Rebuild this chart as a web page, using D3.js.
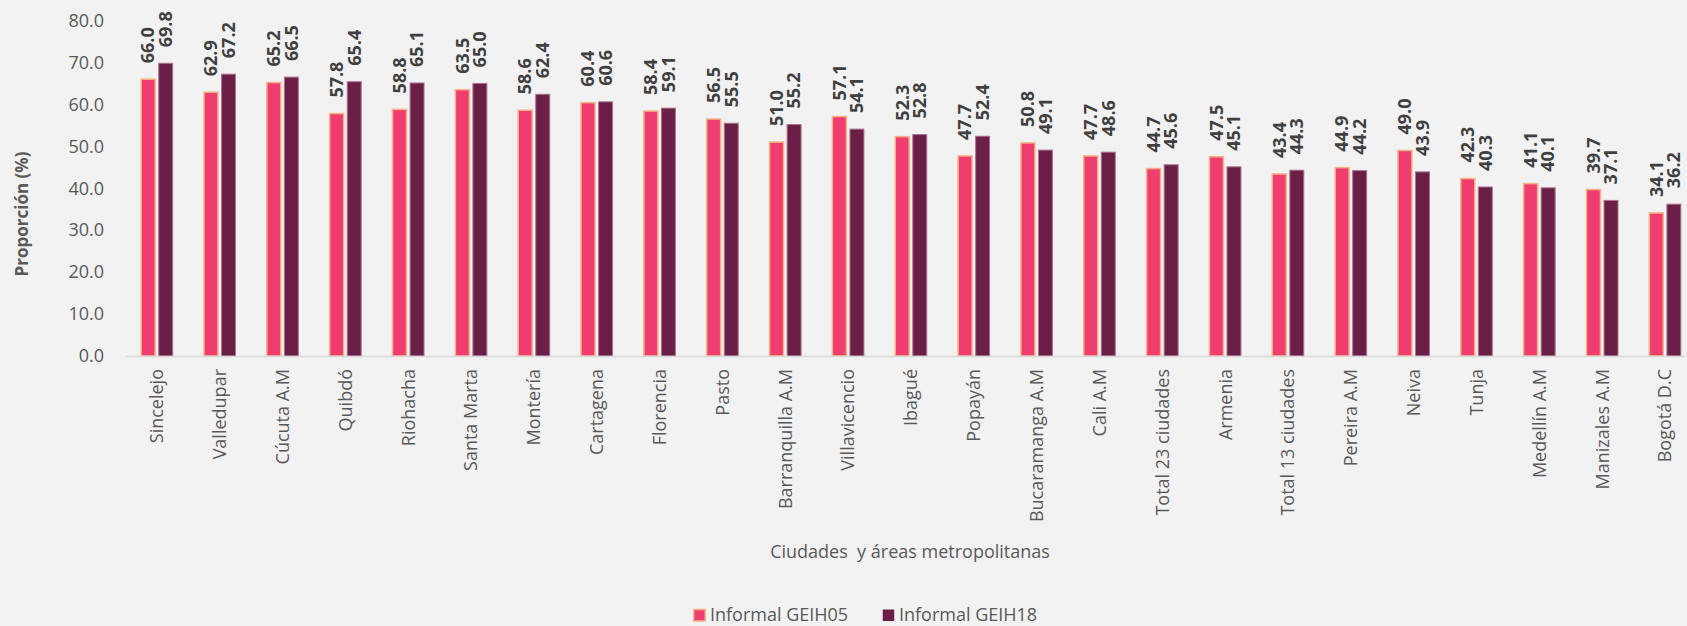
<!DOCTYPE html>
<html>
<head>
<meta charset="utf-8">
<script src="https://cdn.jsdelivr.net/npm/d3@7"></script>
<style>
  body { margin: 0; background: #F2F2F2; overflow: hidden; }
  text { font-family: "Open Sans", "Noto Sans", sans-serif; }
</style>
</head>
<body>
<div id="chart"></div>
<script>
// data
var ciudades = ["Sincelejo", "Valledupar", "Cúcuta A.M", "Quibdó", "Riohacha", "Santa Marta",
  "Montería", "Cartagena", "Florencia", "Pasto", "Barranquilla A.M", "Villavicencio", "Ibagué",
  "Popayán", "Bucaramanga A.M", "Cali A.M", "Total 23 ciudades", "Armenia", "Total 13 ciudades",
  "Pereira A.M", "Neiva", "Tunja", "Medellín A.M", "Manizales A.M", "Bogotá D.C"];
var geih05 = [66.0, 62.9, 65.2, 57.8, 58.8, 63.5, 58.6, 60.4, 58.4, 56.5, 51.0, 57.1, 52.3,
  47.7, 50.8, 47.7, 44.7, 47.5, 43.4, 44.9, 49.0, 42.3, 41.1, 39.7, 34.1];
var geih18 = [69.8, 67.2, 66.5, 65.4, 65.1, 65.0, 62.4, 60.6, 59.1, 55.5, 55.2, 54.1, 52.8,
  52.4, 49.1, 48.6, 45.6, 45.1, 44.3, 44.2, 43.9, 40.3, 40.1, 37.1, 36.2];
var series = ["Informal GEIH05", "Informal GEIH18"];
var yTicks = [0, 10, 20, 30, 40, 50, 60, 70, 80];

var W = 1687, H = 626;
var fills = ["#EE3D6E", "#6B1F47"];
var strokes = ["#F4B183", "#A8718E"];

var data = ciudades.map(function(c, i) {
  return {ciudad: c, vals: [geih05[i], geih18[i]]};
});

var svg = d3.select("#chart").append("svg")
    .attr("width", W)
    .attr("height", H)
    .style("background", "#F2F2F2");

// scales
var x0 = d3.scaleBand()
    .domain(ciudades)
    .range([125.5, 1696.5])
    .paddingInner(0.475)
    .paddingOuter(0.2375);
var x1 = d3.scaleBand()
    .domain([0, 1])
    .range([0, x0.bandwidth()])
    .paddingInner(0.12);
var y = d3.scaleLinear()
    .domain([0, 80])
    .range([356, 20.5]);

// y axis labels
svg.append("g").selectAll("text")
    .data(yTicks)
  .enter().append("text")
    .attr("x", 104)
    .attr("y", function(d) { return y(d); })
    .attr("dy", "0.35em")
    .attr("text-anchor", "end")
    .style("font-size", "18px")
    .style("fill", "#595959")
    .text(function(d) { return d.toFixed(1); });

// bars
var groups = svg.append("g").selectAll("g")
    .data(data)
  .enter().append("g")
    .attr("transform", function(d) { return "translate(" + x0(d.ciudad) + ",0)"; });

groups.selectAll("rect")
    .data(function(d) { return d.vals; })
  .enter().append("rect")
    .attr("x", function(d, i) { return x1(i) + 0.75; })
    .attr("width", x1.bandwidth() - 1.5)
    .attr("y", function(d) { return y(d); })
    .attr("height", function(d) { return y(0) - y(d); })
    .style("fill", function(d, i) { return fills[i]; })
    .style("stroke", function(d, i) { return strokes[i]; })
    .style("stroke-width", function(d, i) { return i == 0 ? 1.5 : 1; });

// value labels
groups.selectAll("text")
    .data(function(d) { return d.vals; })
  .enter().append("text")
    .attr("transform", function(d, i) {
      return "translate(" + (x1(i) + x1.bandwidth() / 2) + "," + (y(d) - 16) + ") rotate(-90)";
    })
    .attr("dy", "0.35em")
    .attr("text-anchor", "start")
    .style("font-size", "18px")
    .style("font-weight", "bold")
    .style("fill", "#404040")
    .text(function(d) { return d.toFixed(1); });

// x axis line
svg.append("line")
    .attr("x1", 125.5)
    .attr("x2", W)
    .attr("y1", 356.5)
    .attr("y2", 356.5)
    .style("stroke", "#D9D9D9")
    .style("stroke-width", 1.5);

// category labels
svg.append("g").selectAll("text")
    .data(ciudades)
  .enter().append("text")
    .attr("transform", function(d) {
      return "translate(" + (x0(d) + x0.bandwidth() / 2) + ",369) rotate(-90)";
    })
    .attr("dy", "0.35em")
    .attr("text-anchor", "end")
    .style("font-size", "18px")
    .style("fill", "#595959")
    .text(function(d) { return d; });

// axis titles
svg.append("text")
    .attr("transform", "translate(22,214) rotate(-90)")
    .attr("dy", "0.35em")
    .attr("text-anchor", "middle")
    .style("font-size", "17px")
    .style("font-weight", "bold")
    .style("fill", "#595959")
    .text("Proporción (%)");

svg.append("text")
    .attr("x", 910)
    .attr("y", 552)
    .attr("dy", "0.35em")
    .attr("text-anchor", "middle")
    .style("font-size", "18px")
    .style("fill", "#595959")
    .style("white-space", "pre")
    .text("Ciudades  y áreas metropolitanas");

// legend
var legX = [693, 882];
var legend = svg.append("g").selectAll("g")
    .data(series)
  .enter().append("g")
    .attr("transform", function(d, i) { return "translate(" + legX[i] + ",615)"; });

legend.append("rect")
    .attr("x", 0.75)
    .attr("y", -5.5)
    .attr("width", 11.5)
    .attr("height", 11.5)
    .style("fill", function(d, i) { return fills[i]; })
    .style("stroke", function(d, i) { return i == 0 ? strokes[0] : "none"; })
    .style("stroke-width", 1.5);

legend.append("text")
    .attr("x", 17)
    .attr("y", 0)
    .attr("dy", "0.35em")
    .style("font-size", "18px")
    .style("fill", "#595959")
    .text(function(d) { return d; });
</script>
</body>
</html>
